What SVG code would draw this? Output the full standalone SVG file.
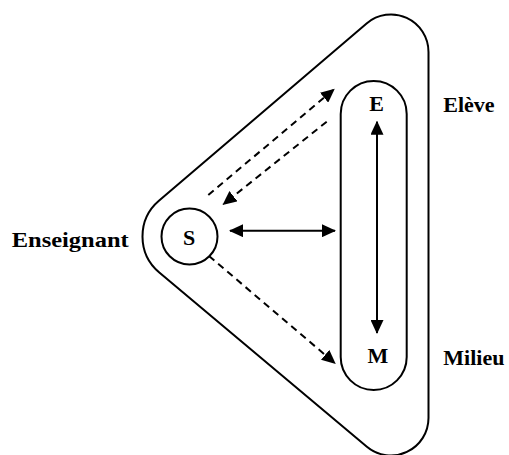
<svg xmlns="http://www.w3.org/2000/svg" width="509" height="455" viewBox="0 0 509 455">
<style>
.ln{fill:none;stroke:#000;stroke-width:2}
.dash{fill:none;stroke:#000;stroke-width:2;stroke-dasharray:7 5}
.t{font-family:"Liberation Serif","Times New Roman",serif;font-weight:bold;font-size:22px;fill:#000}
.c{text-anchor:middle}
</style>
<defs>
<marker id="ah" markerUnits="userSpaceOnUse" markerWidth="14" markerHeight="13" refX="13" refY="6.5" orient="auto-start-reverse" viewBox="0 0 14 13">
<path d="M0,0 L14,6.5 L0,13 z" fill="#000"/>
</marker>
</defs>
<rect width="509" height="455" fill="#fff"/>
<g id="enseignant-group">
<path class="ln" d="M428.5,52 A37.5,37.5 0 0 0 366.6,23.5 L158.9,200.8 A47,47 0 0 0 159.3,272.5 L366.9,446.7 A37.5,37.5 0 0 0 428.5,418 Z"/>
</g>
<g id="eleve-milieu">
<path class="ln" d="M340.7,114 A33,33 0 0 1 406.7,114 L406.7,357 A33,33 0 0 1 340.7,357 Z"/>
</g>
<g id="S">
<circle class="ln" cx="189.5" cy="236.5" r="28"/>
<text class="t c" x="189" y="245">S</text>
</g>
<g id="E"><text class="t c" x="376.7" y="110.7">E</text></g>
<g id="M"><text class="t c" x="378" y="363">M</text></g>
<g id="labels">
<text class="t" x="11.7" y="247.3" textLength="117" lengthAdjust="spacingAndGlyphs">Enseignant</text>
<text class="t" x="443.3" y="111.7">Elève</text>
<text class="t" x="443.3" y="365">Milieu</text>
</g>
<g id="connectors">
<line class="ln" x1="230" y1="230.7" x2="335" y2="230.7" marker-start="url(#ah)" marker-end="url(#ah)"/>
<line class="ln" x1="377" y1="121.7" x2="377" y2="333" marker-start="url(#ah)" marker-end="url(#ah)"/>
<line class="dash" x1="208.3" y1="195" x2="334" y2="89.3" marker-end="url(#ah)"/>
<line class="dash" x1="326.7" y1="121.7" x2="223.3" y2="204.3" marker-end="url(#ah)"/>
<line class="dash" x1="209" y1="256" x2="335" y2="363.3" marker-end="url(#ah)"/>
</g>
</svg>
